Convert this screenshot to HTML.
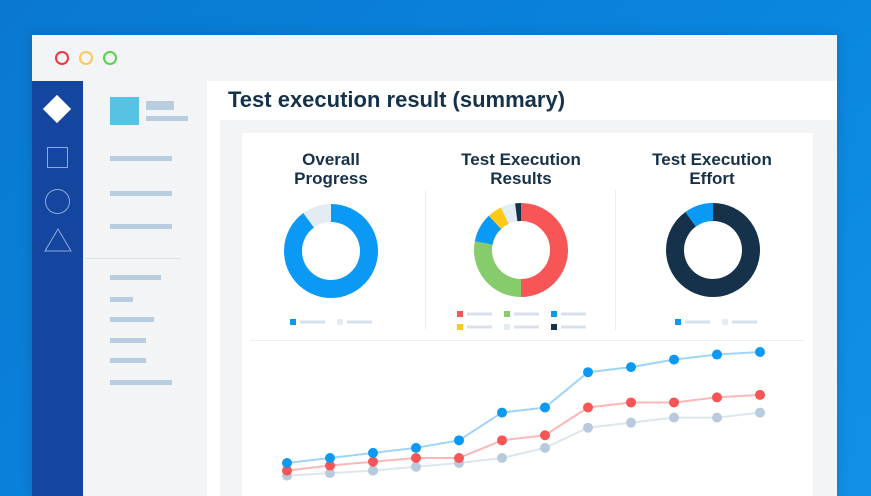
<!DOCTYPE html>
<html><head><meta charset="utf-8">
<style>
*{margin:0;padding:0;box-sizing:border-box}
html,body{width:871px;height:496px;overflow:hidden}
body{font-family:"Liberation Sans",sans-serif;background:linear-gradient(135deg,#0a78d0,#0a86de 60%,#1290e6);position:relative}
.a{position:absolute}
.bar{position:absolute;background:#b8cde0;height:5px}
.ttl{position:absolute;font-weight:bold;color:#16324a;font-size:17px;text-align:center;line-height:19px;width:150px}
</style></head><body>
<div class="a" style="left:32px;top:35px;width:805px;height:461px;background:#f3f4f6;box-shadow:0 0 12px rgba(0,0,0,.15)"></div>
<div class="a" style="left:55px;top:51px;width:14px;height:14px;border:2px solid #f0383c;border-radius:50%"></div>
<div class="a" style="left:79px;top:51px;width:14px;height:14px;border:2px solid #f7c95a;border-radius:50%"></div>
<div class="a" style="left:103px;top:51px;width:14px;height:14px;border:2px solid #5ad04e;border-radius:50%"></div>
<div class="a" style="left:32px;top:81px;width:51px;height:415px;background:#15469f"></div>
<div class="a" style="left:47px;top:99px;width:20px;height:20px;background:#fff;transform:rotate(45deg)"></div>
<div class="a" style="left:47px;top:147px;width:21px;height:21px;border:1px solid #8fa8d8"></div>
<div class="a" style="left:45px;top:189px;width:25px;height:25px;border:1px solid #8fa8d8;border-radius:50%"></div>
<svg class="a" style="left:44px;top:228px" width="28" height="24"><polygon points="14,1 27,23 1,23" fill="none" stroke="#8fa8d8" stroke-width="1"/></svg>
<div class="a" style="left:110px;top:97px;width:29px;height:28px;background:#56c2e4"></div>
<div class="bar" style="left:146px;top:101px;width:28px;height:9px"></div>
<div class="bar" style="left:146px;top:116px;width:42px"></div>
<div class="bar" style="left:110px;top:156px;width:62px"></div>
<div class="bar" style="left:110px;top:191px;width:62px"></div>
<div class="bar" style="left:110px;top:224px;width:62px"></div>
<div class="a" style="left:85px;top:258px;width:96px;height:1px;background:#dde3ea"></div>
<div class="bar" style="left:110px;top:275px;width:51px"></div>
<div class="bar" style="left:110px;top:297px;width:23px"></div>
<div class="bar" style="left:110px;top:317px;width:44px"></div>
<div class="bar" style="left:110px;top:338px;width:36px"></div>
<div class="bar" style="left:110px;top:358px;width:36px"></div>
<div class="bar" style="left:110px;top:380px;width:62px"></div>
<div class="a" style="left:207px;top:81px;width:630px;height:415px;background:#fff"></div>
<div class="a" style="left:228px;top:87px;font-size:22px;font-weight:bold;color:#16324a">Test execution result (summary)</div>
<div class="a" style="left:220px;top:120px;width:617px;height:376px;background:#f3f4f6"></div>
<div class="a" style="left:242px;top:133px;width:571px;height:363px;background:#fff"></div>
<div class="ttl" style="left:256px;top:150px">Overall<br>Progress</div>
<div class="ttl" style="left:446px;top:150px">Test Execution<br>Results</div>
<div class="ttl" style="left:637px;top:150px">Test Execution<br>Effort</div>
<div class="a" style="left:425px;top:190px;width:1px;height:140px;background:#eceff2"></div>
<div class="a" style="left:615px;top:190px;width:1px;height:140px;background:#eceff2"></div>
<div class="a" style="left:250px;top:340px;width:555px;height:1px;background:#eceff2"></div>
<svg class="a" id="donuts" style="left:0;top:0" width="871" height="496"></svg>
<svg class="a" id="line" style="left:0;top:0" width="871" height="496"></svg>
<script>
const progressVals=[90,10];
const progressColors=['#0a99f5','#e3ebf3'];
const resultVals=[50,28,10,5,5,2];
const resultColors=['#f85656','#86cb6c','#0a99f5','#fcc914','#e3ebf3','#16324a'];
const effortVals=[90,10];
const effortColors=['#16324a','#0a99f5'];
const categories=[1,2,3,4,5,6,7,8,9,10,11,12];
const seriesBlue=[12,14,16,18,21,32,34,48,50,53,55,56];
const seriesRed=[9,11,12.5,14,14,21,23,34,36,36,38,39];
const seriesGray=[7,8,9,10.5,12,14,18,26,28,30,30,32];
const NS='http://www.w3.org/2000/svg';
const dg=document.getElementById('donuts');
function donut(cx,cy,vals,cols,name,startAt){
  const tot=vals.reduce((a,b)=>a+b,0);let a=startAt;const R=47,r=29,rm=(R+r)/2;
  vals.forEach((v,i)=>{
    const a2=a+v/tot*2*Math.PI;
    const p=document.createElementNS(NS,'path');
    const x1=cx+rm*Math.sin(a),y1=cy-rm*Math.cos(a),x2=cx+rm*Math.sin(a2),y2=cy-rm*Math.cos(a2);
    p.setAttribute('d',`M${x1} ${y1}A${rm} ${rm} 0 ${a2-a>Math.PI?1:0} 1 ${x2} ${y2}`);
    p.setAttribute('fill','none');p.setAttribute('stroke',cols[i]);p.setAttribute('stroke-width',R-r);
    
    
    dg.appendChild(p);a=a2;
  });
}
donut(331,251,progressVals,progressColors,'progress',0);
donut(521,250,resultVals,resultColors,'results',0);
donut(713,250,effortVals,effortColors,'effort',0);
function legend(x,y,col,name){
  const s=document.createElementNS(NS,'rect');s.setAttribute('x',x);s.setAttribute('y',y);s.setAttribute('width',6);s.setAttribute('height',6);s.setAttribute('fill',col);
  
  
  dg.appendChild(s);
  const b=document.createElementNS(NS,'rect');b.setAttribute('x',x+10);b.setAttribute('y',y+1.5);b.setAttribute('width',25);b.setAttribute('height',3);b.setAttribute('fill','#d6e1ec');
  
  
  dg.appendChild(b);
}
legend(290,319,progressColors[0],'legend-entry');legend(337,319,progressColors[1],'legend-entry');
legend(457,311,resultColors[0],'legend-entry');legend(504,311,resultColors[1],'legend-entry');legend(551,311,resultColors[2],'legend-entry');
legend(457,324,resultColors[3],'legend-entry');legend(504,324,resultColors[4],'legend-entry');legend(551,324,resultColors[5],'legend-entry');
legend(675,319,effortColors[1],'legend-entry');legend(722,319,'#e3ebf3','legend-entry');
const lg=document.getElementById('line');
const xS=i=>287+(i)*(760-287)/(categories.length-1);
const yS=v=>493.3-v*2.523;
function series(vals,lineCol,dotCol,name){
  const pl=document.createElementNS(NS,'polyline');
  pl.setAttribute('points',vals.map((v,i)=>xS(i)+','+yS(v)).join(' '));
  pl.setAttribute('fill','none');pl.setAttribute('stroke',lineCol);pl.setAttribute('stroke-width',2);
  
  
  lg.appendChild(pl);
  vals.forEach((v,i)=>{
    const c=document.createElementNS(NS,'circle');c.setAttribute('cx',xS(i));c.setAttribute('cy',yS(v));c.setAttribute('r',5);c.setAttribute('fill',dotCol);
    
    
    lg.appendChild(c);
  });
}
series(seriesGray,'#dce6ed','#b8cbdc','gray-series');
series(seriesRed,'#fbb8b8','#f85656','red-series');
series(seriesBlue,'#9fd4f8','#0a99f5','blue-series');
</script>
</body></html>
